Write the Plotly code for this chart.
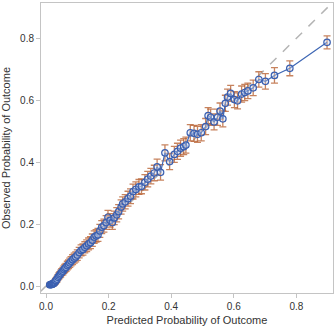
import plotly.graph_objects as go

predicted = [0.012, 0.014, 0.016, 0.018, 0.020, 0.022, 0.024, 0.026, 0.028, 0.030,
             0.032, 0.035, 0.038, 0.041, 0.044, 0.047, 0.050, 0.054, 0.057, 0.060,
             0.064, 0.068, 0.072, 0.076, 0.080, 0.085, 0.090, 0.095, 0.100, 0.106,
             0.112, 0.118, 0.124, 0.130, 0.136, 0.142, 0.148, 0.154, 0.160, 0.166,
             0.172, 0.178, 0.185, 0.192, 0.198, 0.205, 0.212, 0.218, 0.226, 0.232,
             0.240, 0.245, 0.253, 0.262, 0.270, 0.278, 0.287, 0.297, 0.305, 0.316,
             0.325, 0.335, 0.346, 0.355, 0.366, 0.380, 0.395, 0.410, 0.420, 0.430,
             0.440, 0.447, 0.461, 0.473, 0.484, 0.496, 0.510, 0.518, 0.526, 0.537,
             0.548, 0.556, 0.565, 0.573, 0.580, 0.590, 0.602, 0.612, 0.625, 0.635,
             0.645, 0.662, 0.680, 0.701, 0.730, 0.779, 0.898]
observed = [0.004, 0.004, 0.005, 0.005, 0.006, 0.007, 0.008, 0.010, 0.012, 0.015,
            0.018, 0.022, 0.028, 0.032, 0.036, 0.040, 0.045, 0.048, 0.053, 0.057,
            0.060, 0.066, 0.070, 0.075, 0.080, 0.085, 0.090, 0.094, 0.100, 0.108,
            0.115, 0.118, 0.125, 0.130, 0.136, 0.140, 0.148, 0.158, 0.162, 0.165,
            0.178, 0.190, 0.195, 0.205, 0.222, 0.212, 0.205, 0.220, 0.230, 0.240,
            0.255, 0.265, 0.272, 0.282, 0.290, 0.305, 0.312, 0.320, 0.322, 0.335,
            0.345, 0.355, 0.365, 0.385, 0.367, 0.430, 0.402, 0.425, 0.435, 0.445,
            0.450, 0.455, 0.495, 0.493, 0.490, 0.495, 0.515, 0.550, 0.545, 0.530,
            0.545, 0.565, 0.540, 0.590, 0.610, 0.622, 0.602, 0.598, 0.620, 0.625,
            0.630, 0.640, 0.667, 0.661, 0.680, 0.703, 0.787]
error = [0.005, 0.005, 0.005, 0.006, 0.006, 0.006, 0.007, 0.007, 0.007, 0.008,
         0.008, 0.009, 0.009, 0.010, 0.010, 0.011, 0.011, 0.012, 0.012, 0.013,
         0.013, 0.014, 0.014, 0.015, 0.015, 0.016, 0.016, 0.016, 0.017, 0.017,
         0.018, 0.018, 0.018, 0.019, 0.019, 0.019, 0.020, 0.020, 0.020, 0.021,
         0.021, 0.021, 0.021, 0.022, 0.022, 0.022, 0.022, 0.022, 0.023, 0.023,
         0.023, 0.023, 0.023, 0.024, 0.024, 0.024, 0.024, 0.024, 0.024, 0.025,
         0.025, 0.025, 0.025, 0.025, 0.025, 0.026, 0.026, 0.026, 0.026, 0.026,
         0.026, 0.026, 0.026, 0.026, 0.026, 0.026, 0.026, 0.026, 0.026, 0.026,
         0.026, 0.026, 0.026, 0.026, 0.026, 0.026, 0.026, 0.026, 0.026, 0.026,
         0.025, 0.025, 0.025, 0.025, 0.025, 0.024, 0.021]
diag = [-0.02, 0.91]

fig = go.Figure()
fig.add_trace(go.Scatter(x=diag, y=diag, mode="lines",
                         line=dict(color="#b4b4b4", width=1.5, dash="dash"),
                         hoverinfo="skip", showlegend=False))
fig.add_trace(go.Scatter(
    x=predicted, y=observed, mode="lines+markers",
    line=dict(color="#3d66b4", width=1.2),
    marker=dict(symbol="circle", size=6.5, color="rgba(200,215,240,0.35)",
                line=dict(color="#3a5fb0", width=1.2)),
    error_y=dict(type="data", array=error, visible=True,
                 color="rgba(180,90,40,0.75)", thickness=1.3, width=3.5),
    showlegend=False))

axis_common = dict(showline=True, linecolor="#c4c4c4", linewidth=1, mirror=True,
                   showgrid=False, zeroline=False, ticks="outside", ticklen=4,
                   tickcolor="#c4c4c4", tickfont=dict(size=10, color="#333333"),
                   tickvals=[0.0, 0.2, 0.4, 0.6, 0.8], tickformat=".1f")
fig.update_xaxes(range=[-0.016, 0.917],
                 title=dict(text="Predicted Probability of Outcome",
                            font=dict(size=11, color="#333333"), standoff=5),
                 **axis_common)
fig.update_yaxes(range=[-0.0226, 0.914],
                 title=dict(text="Observed Probability of Outcome",
                            font=dict(size=11, color="#333333"), standoff=8),
                 **axis_common)
fig.update_layout(width=336, height=328, margin=dict(l=41, r=3, t=3, b=35),
                  plot_bgcolor="white", paper_bgcolor="white",
                  font=dict(family="Liberation Sans, Arial, sans-serif"))
fig.write_html("out.html")
